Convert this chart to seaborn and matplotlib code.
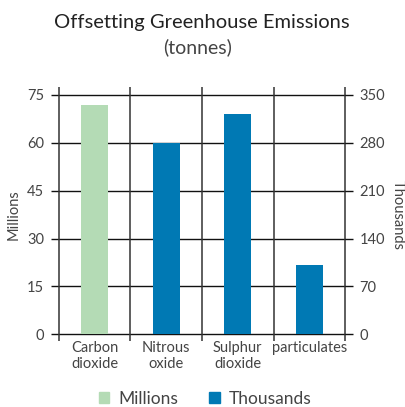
import matplotlib
matplotlib.use("Agg")
import matplotlib.pyplot as plt
import matplotlib.patches as mpatches
import seaborn as sns
import pandas as pd

categories = ["Carbon\ndioxide", "Nitrous\noxide", "Sulphur\ndioxide", "particulates"]
millions_cats = ["Carbon\ndioxide"]
millions_vals = [71.8]
thousands_cats = ["Nitrous\noxide", "Sulphur\ndioxide", "particulates"]
thousands_vals = [280, 322, 101]
left_ticks = [0, 15, 30, 45, 60, 75]
right_ticks = [0, 70, 140, 210, 280, 350]

GREEN = "#b4dbb5"
BLUE = "#0079b4"
TXT = "#444444"

sns.set_theme(style="white")
plt.rcParams["font.family"] = ["Lato", "DejaVu Sans"]

fig = plt.figure(figsize=(4.06, 4.07), dpi=100)
ax = fig.add_axes([0.145, 0.1786, 0.705, 0.5884])
ax2 = ax.twinx()

df_m = pd.DataFrame({"cat": millions_cats, "val": millions_vals})
df_t = pd.DataFrame({"cat": thousands_cats, "val": thousands_vals})
sns.barplot(data=df_m, x="cat", y="val", order=categories, color=GREEN,
            width=0.38, saturation=1, linewidth=0, ax=ax, zorder=3)
sns.barplot(data=df_t, x="cat", y="val", order=categories, color=BLUE,
            width=0.38, saturation=1, linewidth=0, ax=ax2, zorder=3)

for a in (ax, ax2):
    a.set_xlim(-0.5, 3.5)
    for s in a.spines.values():
        s.set_visible(False)
    a.set_xlabel("")
ax.set_ylim(0, 75)
ax2.set_ylim(0, 350)
ax.set_yticks(left_ticks)
ax2.set_yticks(right_ticks)
ax.set_yticklabels([str(t) for t in left_ticks])
ax2.set_yticklabels([str(t) for t in right_ticks])

ax.set_axisbelow(True)
ax.grid(axis="y", color="#111111", linewidth=1.0)
ax.grid(axis="x", visible=False)
ax2.grid(False)
for gl in ax.get_ygridlines():
    gl.set_clip_on(False)

ax.tick_params(axis="y", left=True, length=5.5, width=1.0, color="#111111",
               pad=5, labelsize=10.5, labelcolor=TXT)
ax2.tick_params(axis="y", right=True, length=5.5, width=1.0, color="#111111",
                pad=5, labelsize=10.5, labelcolor=TXT)
ax.set_xticks(range(len(categories)))
ax.set_xticklabels(categories, fontsize=10.5, color=TXT, linespacing=1.15)
ax.tick_params(axis="x", length=0, pad=5)
ax2.tick_params(axis="x", length=0, labelbottom=False)

ax.vlines([-0.5, 0.5, 1.5, 2.5, 3.5], -0.03, 1.032, transform=ax.get_xaxis_transform(),
          colors="#333333", linewidth=1.1, clip_on=False, zorder=1)

ax.set_ylabel("Millions", fontsize=10.5, color=TXT, labelpad=5)
ax2.set_ylabel("Thousands", fontsize=10.5, color=TXT, rotation=270, labelpad=14)

fig.text(0.496, 0.945, "Offsetting Greenhouse Emissions", ha="center", va="center",
         fontsize=14.5, color="#222222", fontweight="normal")
fig.text(0.486, 0.883, "(tonnes)", ha="center", va="center", fontsize=14, color=TXT)

handles = [mpatches.Patch(color=GREEN, label="Millions"),
           mpatches.Patch(color=BLUE, label="Thousands")]
leg = fig.legend(handles=handles, loc="center", bbox_to_anchor=(0.505, 0.02), ncol=2,
                 frameon=False, fontsize=12.5, handlelength=0.62, handleheight=0.62,
                 handletextpad=0.5, columnspacing=1.8)
for t in leg.get_texts():
    t.set_color(TXT)

fig.savefig("out.png", dpi=100)
